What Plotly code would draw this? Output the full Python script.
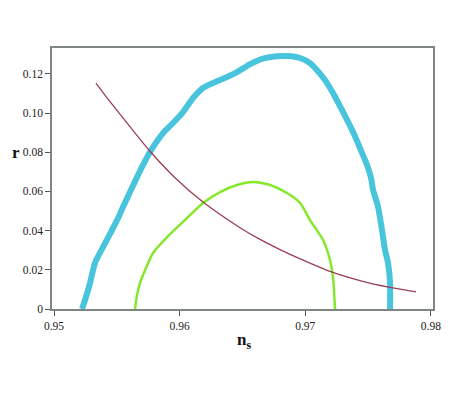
import plotly.graph_objects as go

# Blue contour (outer)
blue_ns = [0.95223, 0.95247, 0.95287, 0.95326, 0.95390, 0.95462, 0.95510, 0.95549, 0.95605,
           0.95661, 0.95709, 0.95764, 0.95868, 0.95947, 0.96027, 0.96107, 0.96186, 0.96266,
           0.96377, 0.96457, 0.96561, 0.96664, 0.96775, 0.96855, 0.96959, 0.97038,
           0.97094, 0.97158, 0.97221, 0.97293, 0.97373, 0.97436, 0.97492, 0.97524, 0.97540,
           0.97580, 0.97611, 0.97635, 0.97659, 0.97675, 0.97675]
blue_r = [0.0, 0.0046, 0.0133, 0.0235, 0.0316, 0.0403, 0.0464, 0.0520, 0.0597,
          0.0673, 0.0735, 0.0801, 0.0898, 0.0949, 0.1005, 0.1077, 0.1128, 0.1153,
          0.1184, 0.1209, 0.1250, 0.1278, 0.1290, 0.1291, 0.1281, 0.1255,
          0.1219, 0.1168, 0.1102, 0.1015, 0.0913, 0.0821, 0.0735, 0.0668, 0.0607,
          0.0520, 0.0403, 0.0301, 0.0235, 0.0133, 0.0]

# Green contour (inner)
green_ns = [0.95645, 0.95661, 0.95685, 0.95732, 0.95788, 0.95908, 0.96059, 0.96186, 0.96322,
            0.96457, 0.96584, 0.96720, 0.96855, 0.96959, 0.97038, 0.97142, 0.97197, 0.97221,
            0.97237]
green_r = [0.0, 0.0071, 0.0133, 0.0209, 0.0286, 0.0372, 0.0464, 0.0541, 0.0597,
           0.0633, 0.0648, 0.0633, 0.0592, 0.0541, 0.0454, 0.0352, 0.0250, 0.0163,
           0.0]

# Model prediction curve
model_ns = [0.95334, 0.95446, 0.95549, 0.95764, 0.95963, 0.96186, 0.96481, 0.96640,
            0.96799, 0.96959, 0.97197, 0.97436, 0.97675, 0.97882]
model_r = [0.1153, 0.1058, 0.0975, 0.0805, 0.0670, 0.0546, 0.0415, 0.0355,
           0.0303, 0.0256, 0.0192, 0.0145, 0.0110, 0.0087]

x_ticks = [0.95, 0.96, 0.97, 0.98]
x_ticktext = ["0.95", "0.96", "0.97", "0.98"]
y_ticks = [0, 0.02, 0.04, 0.06, 0.08, 0.10, 0.12]
y_ticktext = ["0", "0.02", "0.04", "0.06", "0.08", "0.10", "0.12"]

SERIF = "Liberation Serif, Times New Roman, serif"

fig = go.Figure()
fig.add_trace(go.Scatter(x=blue_ns, y=blue_r, mode="lines",
                         line=dict(color="#48c4dd", width=6, shape="spline", smoothing=0.6),
                         showlegend=False))
fig.add_trace(go.Scatter(x=green_ns, y=green_r, mode="lines",
                         line=dict(color="#86e82c", width=2.5, shape="spline", smoothing=0.6),
                         showlegend=False))
fig.add_trace(go.Scatter(x=model_ns, y=model_r, mode="lines",
                         line=dict(color="#9a3f55", width=1.3, shape="spline", smoothing=0.8),
                         showlegend=False))

axis_common = dict(showgrid=False, zeroline=False, showline=True, linecolor="#7f8585",
                   linewidth=1.5, mirror=True, ticks="outside", ticklen=5, tickwidth=1,
                   tickcolor="#555555",
                   tickfont=dict(family=SERIF, size=11.5, color="#222222"))

# page body has an 8px margin: shrink the figure and margins to compensate
fig.update_layout(
    width=465, height=406,
    margin=dict(l=44, r=40, t=40, b=105),
    paper_bgcolor="white", plot_bgcolor="white",
    xaxis=dict(range=[0.94984, 0.98017], tickvals=x_ticks, ticktext=x_ticktext, **axis_common),
    yaxis=dict(range=[0, 0.1332], tickvals=y_ticks, ticktext=y_ticktext, **axis_common),
    annotations=[
        dict(text="<b>r</b>", xref="paper", yref="paper", x=-0.095, y=0.6015,
             xanchor="center", yanchor="middle", showarrow=False,
             font=dict(family=SERIF, size=17, color="#111111")),
        dict(text="<b>n<sub>s</sub></b>", xref="paper", yref="paper", x=0.504, y=-0.123,
             xanchor="center", yanchor="middle", showarrow=False,
             font=dict(family=SERIF, size=17, color="#111111")),
    ],
)

fig.write_html("out.html")
